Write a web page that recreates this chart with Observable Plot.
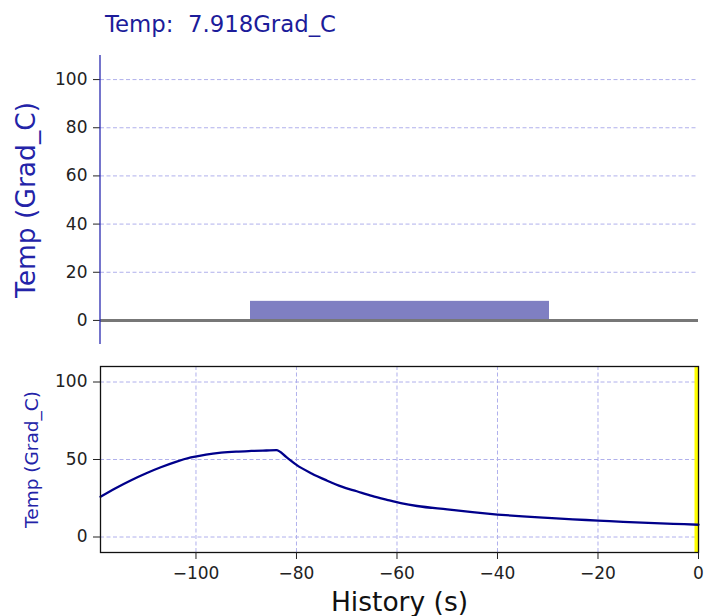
<!DOCTYPE html>
<html>
<head>
<meta charset="utf-8">
<script src="https://cdn.jsdelivr.net/npm/d3@7"></script>
<script src="https://cdn.jsdelivr.net/npm/@observablehq/plot@0.6"></script>
<style>
  html, body { margin: 0; padding: 0; background: #fff; }
  #wrap { position: relative; width: 705px; height: 616px; font-family: "DejaVu Sans", sans-serif; }
  #title { position: absolute; left: 105px; top: 11px; font-size: 22.8px; line-height: 27px; color: #1c1c9a; white-space: pre; }
  #top { position: absolute; left: 0; top: 0; }
  #bottom { position: absolute; left: 0; top: 350px; }
</style>
</head>
<body>
<div id="wrap">
  <div id="top"></div>
  <div id="bottom"></div>
  <div id="title"></div>
</div>
<script>
// ---- data ----
const titleText = "Temp:  7.918Grad_C";
const yLabel = "Temp (Grad_C)";
const xLabel = "History (s)";
const barCategories = ["Temp"];
const barValues = [7.918];
const topYTicks = [0, 20, 40, 60, 80, 100];
const bottomYTicks = [0, 50, 100];
const xTicks = [-100, -80, -60, -40, -20, 0];
const historyTime = [-119, -116, -113, -110, -107, -104, -101, -98, -95, -92, -89, -86, -84, -82, -80, -77, -74, -71, -68, -65, -62, -59, -56, -50, -45, -40, -35, -30, -25, -20, -15, -10, -5, 0];
const historyTemp = [26, 31.5, 36.5, 41, 45, 48.5, 51.3, 53.2, 54.4, 55.1, 55.5, 55.8, 56, 51.5, 46.5, 41, 36.5, 32.5, 29.5, 26.5, 24, 21.7, 20, 17.8, 16, 14.5, 13.3, 12.3, 11.4, 10.6, 9.8, 9.1, 8.5, 7.918];
const nowMarker = [0];

// ---- styles ----
const gridColor = "#b0b0ec";
const navy = "#00008b";
const labelBlue = "#2323a8";
const font = "DejaVu Sans";
const minusFmt = d => d < 0 ? "\u2212" + Math.abs(d) : String(d);

document.getElementById("title").textContent = titleText;

const barData = barCategories.map((c, i) => ({name: c, value: barValues[i]}));
const lineData = historyTime.map((t, i) => ({t, v: historyTemp[i]}));

// left spine for top panel
const leftSpine = (index, scales, values, dim) => {
  const g = d3.create("svg:line")
    .attr("x1", dim.marginLeft).attr("x2", dim.marginLeft)
    .attr("y1", dim.marginTop).attr("y2", dim.height - dim.marginBottom)
    .attr("stroke", "#2a2ab0").attr("stroke-width", 1.3);
  return g.node();
};

const topPlot = Plot.plot({
  width: 705, height: 350,
  marginTop: 55, marginBottom: 6, marginLeft: 100, marginRight: 7,
  style: {fontFamily: font, fontSize: "17px", color: "#222", background: "transparent"},
  x: {type: "band", domain: barCategories, paddingInner: 0, paddingOuter: 0.5, axis: null},
  y: {domain: [-10, 110], axis: null},
  marks: [
    Plot.gridY(topYTicks, {stroke: gridColor, strokeOpacity: 1, strokeDasharray: "4,2.5", strokeWidth: 1}),
    Plot.barY(barData, {x: "name", y: "value", fill: "#7f7fc2"}),
    Plot.ruleY([0], {stroke: "#777", strokeWidth: 3}),
    Plot.axisY(topYTicks, {tickSize: 7, tickPadding: 6, label: null, fontSize: 17, tickFormat: minusFmt, fill: "#222", stroke: "#222"}),
    leftSpine,
    Plot.text([yLabel], {frameAnchor: "left", textAnchor: "middle", lineAnchor: "middle", rotate: -90, dx: -73.5, fontSize: 26.5, fill: labelBlue, fontFamily: font})
  ]
});
document.getElementById("top").appendChild(topPlot);

const bottomPlot = Plot.plot({
  width: 705, height: 266,
  marginTop: 16, marginBottom: 64, marginLeft: 100, marginRight: 7,
  style: {fontFamily: font, fontSize: "17px", color: "#222", background: "transparent"},
  x: {domain: [-119, 0], axis: null},
  y: {domain: [-10, 110], axis: null},
  marks: [
    Plot.gridY(bottomYTicks, {stroke: gridColor, strokeOpacity: 1, strokeDasharray: "4,2.5", strokeWidth: 1}),
    Plot.gridX(xTicks, {stroke: gridColor, strokeOpacity: 1, strokeDasharray: "4,2.5", strokeWidth: 1}),
    Plot.ruleX(nowMarker, {stroke: "#ffff00", strokeWidth: 4, dx: -2}),
    Plot.line(lineData, {x: "t", y: "v", stroke: navy, strokeWidth: 2.3, curve: "monotone-x"}),
    Plot.frame({stroke: "#111", strokeWidth: 1.3}),
    Plot.axisY(bottomYTicks, {tickSize: 7, tickPadding: 6, label: null, fontSize: 17, tickFormat: minusFmt, fill: "#222", stroke: "#222"}),
    Plot.axisX(xTicks, {tickSize: 7, tickPadding: 7, label: null, fontSize: 17, tickFormat: minusFmt, fill: "#222", stroke: "#222"}),
    Plot.text([yLabel], {frameAnchor: "left", textAnchor: "middle", lineAnchor: "middle", rotate: -90, dx: -68, fontSize: 18.5, fill: labelBlue, fontFamily: font}),
    Plot.text([xLabel], {frameAnchor: "bottom", lineAnchor: "middle", dy: 50, fontSize: 26.5, fill: "#111", fontFamily: font})
  ]
});
document.getElementById("bottom").appendChild(bottomPlot);
</script>
</body>
</html>
